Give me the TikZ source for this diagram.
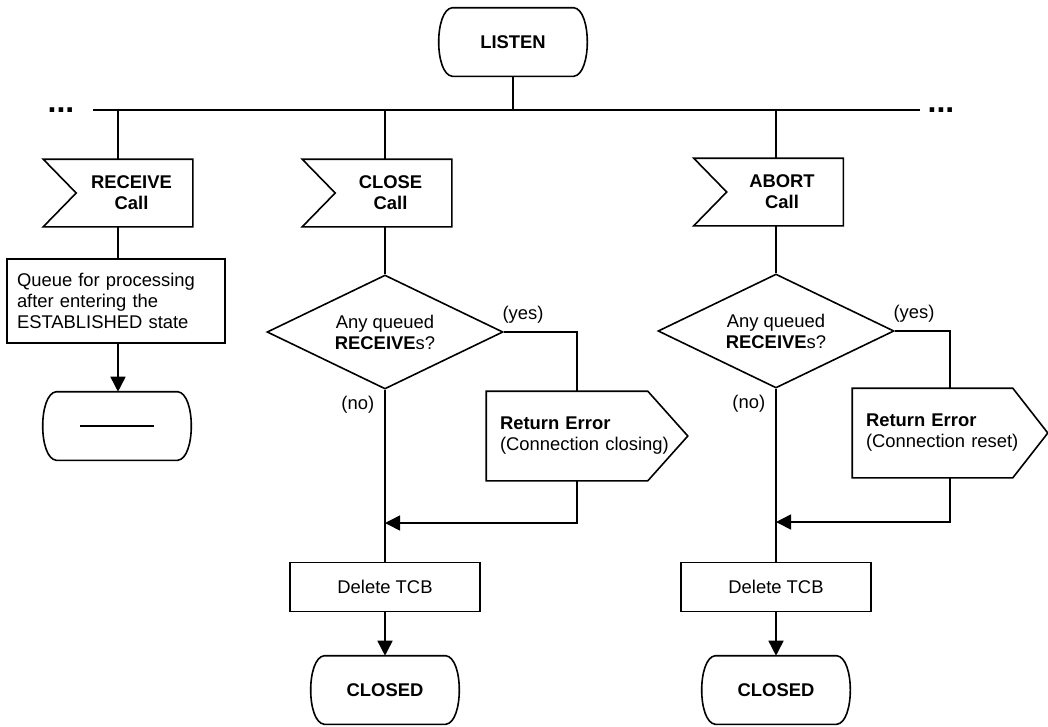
\documentclass[tikz,border=0pt]{standalone}
\usepackage{fontspec}
\setmainfont{Liberation Sans}
\usetikzlibrary{shapes.geometric,arrows.meta,calc}

\newcommand\diagfont{\fontsize{18.4}{21}\selectfont}

% state symbol: flat top and bottom, softly bulging sides
\newcommand\termoutline[1]{%
  \draw ([xshift=14pt]#1.north west) -- ([xshift=-14pt]#1.north east)
    .. controls ([xshift=4pt,yshift=-2pt]#1.north east) and ([xshift=4pt,yshift=2pt]#1.south east) .. ([xshift=-14pt]#1.south east)
    -- ([xshift=14pt]#1.south west)
    .. controls ([xshift=-4pt,yshift=2pt]#1.south west) and ([xshift=-4pt,yshift=-2pt]#1.north west) .. ([xshift=14pt]#1.north west)
    -- cycle;}
% input symbol: rectangle with a notch cut into its left side
\newcommand\flagoutline[1]{%
  \draw (#1.north west) -- (#1.north east) -- (#1.south east) -- (#1.south west)
    -- ([xshift=33pt]#1.west) -- cycle;}
% output symbol: rectangle pointing to the right
\newcommand\sendoutline[2]{%
  \draw (#1.north west) -- ([xshift=-#2]#1.north east) -- (#1.east)
    -- ([xshift=-#2]#1.south east) -- (#1.south west) -- cycle;}

\begin{document}
\begin{tikzpicture}[x=1pt, y=-1pt, line width=1.6pt,
  every node/.style={font=\diagfont, inner sep=0pt},
  flowarrow/.style={-{Triangle[length=15pt,width=15pt]}},
  termbox/.style={minimum width=148pt, minimum height=67pt, font=\diagfont\bfseries},
  flagbox/.style={minimum width=148pt, minimum height=66pt, align=center, font=\diagfont\bfseries},
  procbox/.style={draw, minimum width=190pt, minimum height=49pt},
  notebox/.style={draw, inner xsep=10pt, text width=198pt, minimum height=84pt, align=left},
  decbox/.style={draw, diamond, aspect=2.07, minimum width=236pt, minimum height=114pt, align=center},
  sendbox/.style={inner xsep=13pt, minimum height=88pt, align=left},
  dots/.style={font=\fontsize{32}{32}\selectfont\bfseries, anchor=base},
  lbl/.style={font=\diagfont}
]
\path[use as bounding box] (0,0) rectangle (1048,726);

% top state and the bus
\node[termbox] (listen) at (513,42) {LISTEN};
\termoutline{listen}
\coordinate (busL) at (93,110);
\coordinate (busR) at (920,110);
\draw (busL) -- (busR);
\draw (listen.south) -- (listen.south |- busL);
\node[dots] (dotsL) at (61,112.3) {...};
\node[dots] (dotsR) at (941,112.3) {...};

% RECEIVE branch
\node[flagbox] (rcv) at (118,193) {\hspace*{27pt}RECEIVE\\\hspace*{27pt}Call};
\flagoutline{rcv}
\draw (rcv.north |- busL) -- (rcv.north);
\node[notebox] (queue) at (116,301) {Queue for processing\\after entering the\\ESTABLISHED state};
\draw (rcv.south) -- (rcv.south |- queue.north);
\node[termbox] (wait) at (117,426) {};
\termoutline{wait}
\draw ([xshift=-37pt]wait.center) -- ([xshift=37pt]wait.center);
\draw[flowarrow] (rcv.south |- queue.south) -- (rcv.south |- wait.north);

% CLOSE branch
\node[flagbox] (cls) at (377,193) {\hspace*{27pt}CLOSE\\\hspace*{27pt}Call};
\flagoutline{cls}
\node[decbox] (q1) at (385,332) {Any queued\\\textbf{RECEIVE}s?};
\draw (q1.north |- busL) -- (q1.north |- cls.north);
\draw (q1.north |- cls.south) -- (q1.north);
\node[sendbox, minimum width=200pt, text width=174pt] (err1) at (587,436)
  {\textbf{Return Error}\\(Connection closing)};
\sendoutline{err1}{40pt}
\draw (q1.east) -| ([xshift=91pt]err1.north west);
\node[lbl, anchor=south west] (yes1) at ([xshift=-2pt,yshift=8pt]q1.east) {(yes)};
\node[lbl, anchor=north east] (no1) at ([xshift=-10pt,yshift=-6pt]q1.south) {(no)};
\node[procbox] (del1) at (385,587) {Delete TCB};
\draw (q1.south) -- (del1.north);
\coordinate (join1) at (385,523);
\draw[flowarrow] ([xshift=91pt]err1.south west) |- (join1);
\node[termbox] (closed1) at (385,690) {CLOSED};
\termoutline{closed1}
\draw[flowarrow] (del1.south) -- (closed1.north);

% ABORT branch
\node[flagbox] (abt) at (768.5,192) {\hspace*{27pt}ABORT\\\hspace*{27pt}Call};
\flagoutline{abt}
\node[decbox] (q2) at (776,331) {Any queued\\\textbf{RECEIVE}s?};
\draw (q2.north |- busL) -- (q2.north |- abt.north);
\draw (q2.north |- abt.south) -- (q2.north);
\node[sendbox, minimum width=194pt, text width=168pt] (err2) at (950,433)
  {\textbf{Return Error}\\(Connection reset)};
\sendoutline{err2}{35pt}
\draw (q2.east) -| ([xshift=98pt]err2.north west);
\node[lbl, anchor=south west] (yes2) at ([xshift=-2pt,yshift=8pt]q2.east) {(yes)};
\node[lbl, anchor=north east] (no2) at ([xshift=-10pt,yshift=-6pt]q2.south) {(no)};
\node[procbox] (del2) at (776,587) {Delete TCB};
\draw (q2.south) -- (del2.north);
\coordinate (join2) at (776,522);
\draw[flowarrow] ([xshift=98pt]err2.south west) |- (join2);
\node[termbox] (closed2) at (776,690) {CLOSED};
\termoutline{closed2}
\draw[flowarrow] (del2.south) -- (closed2.north);
\end{tikzpicture}
\end{document}
